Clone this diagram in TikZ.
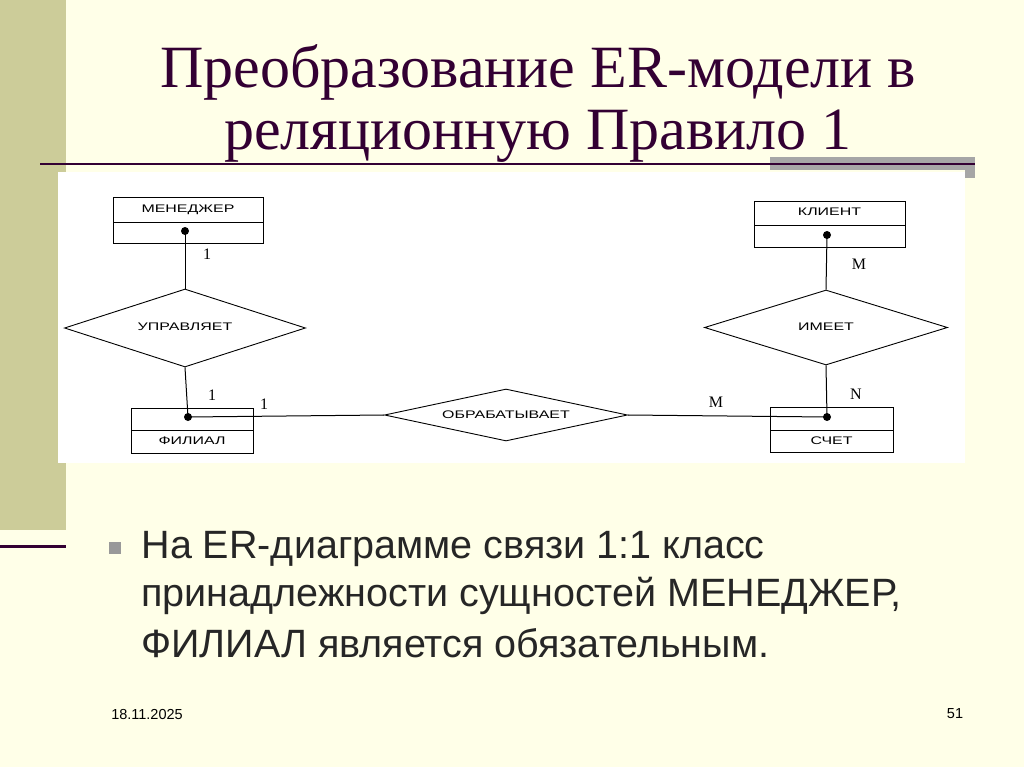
\documentclass[tikz,border=0pt]{standalone}
\usepackage{fontspec}
\setmainfont{Liberation Serif}
\newfontfamily\arial{Liberation Sans}
\usetikzlibrary{shapes.geometric}
\definecolor{bg}{HTML}{FFFFE8}
\definecolor{bar}{HTML}{CCCC99}
\definecolor{ttl}{HTML}{330033}
\tikzset{
 ent/.style={draw,line width=1pt},
 rel/.style={draw,line width=0.9pt},
 lbl/.style={font=\arial\fontsize{11}{12}\selectfont,xscale=1.45},
 card/.style={font=\fontsize{16}{16}\selectfont},
 conn/.style={line width=1pt},
 dotc/.style={circle,fill=black,inner sep=0pt,minimum size=8pt},
 bodytxt/.style={font=\arial\fontsize{39.5}{48}\selectfont,anchor=west,text=black!85}
}
\begin{document}
\begin{tikzpicture}[x=1pt,y=-1pt]
\fill[bg] (0,0) rectangle (1024,767);
\useasboundingbox (0,0) rectangle (1024,767);
\fill[bar] (0,0) rectangle (66,530);
\draw[ttl,line width=3pt] (0,546) -- (66,546);
% title
\node[text=ttl,font=\fontsize{60}{58}\selectfont,align=center] (title) at (538,104) {Преобразование ER-модели в\\[4pt]реляционную Правило 1};
\fill[black!35] (770,157) rectangle (975,170);
\fill[black!35] (965,165) rectangle (975,178);
\draw[ttl,line width=2pt] (40,164) -- (975,164);
% diagram image
\fill[white] (58,172) rectangle (965,463);
\node[ent,minimum width=150pt,minimum height=45pt] (men) at (188,220.5) {};
\draw[line width=0.8pt] (113,222) -- (263,222);
\node[lbl] (menl) at (188,210) {МЕНЕДЖЕР};
\node[ent,minimum width=122pt,minimum height=45pt] (fil) at (192,430.5) {};
\draw[line width=0.8pt] (131,430) -- (253,430);
\node[lbl] (fill) at (192,441) {ФИЛИАЛ};
\node[ent,minimum width=151pt,minimum height=45pt] (kli) at (829.5,224.5) {};
\draw[line width=0.8pt] (754,225) -- (905,225);
\node[lbl] (klil) at (829.5,212) {КЛИЕНТ};
\node[ent,minimum width=123pt,minimum height=45pt] (sch) at (831.5,429.5) {};
\draw[line width=0.8pt] (770,430) -- (893,430);
\node[lbl] (schl) at (831.5,441) {СЧЕТ};
\node[rel,diamond,minimum width=241pt,minimum height=78pt,inner sep=0pt] (upr) at (185,328) {};
\node[lbl] (uprl) at (185,327) {УПРАВЛЯЕТ};
\node[rel,diamond,minimum width=243pt,minimum height=75pt,inner sep=0pt] (ime) at (826,327.5) {};
\node[lbl] (imel) at (826,327) {ИМЕЕТ};
\node[rel,diamond,minimum width=243pt,minimum height=52pt,inner sep=0pt] (obr) at (506,415) {};
\node[lbl] (obrl) at (506,415) {ОБРАБАТЫВАЕТ};
\node[dotc] (d1) at (185,231) {};
\node[dotc] (d2) at (188,417) {};
\node[dotc] (d3) at (827,235) {};
\node[dotc] (d4) at (827,417) {};
\draw[conn] (d1.center) -- (upr.north);
\draw[conn] (upr.south) -- (d2.center);
\draw[conn] (d2.center) -- (obr.west);
\draw[conn] (obr.east) -- (d4.center);
\draw[conn] (d3.center) -- (ime.north);
\draw[conn] (ime.south) -- (d4.center);
\node[card] (c1) at (207,254) {1};
\node[card] (c2) at (212,395) {1};
\node[card] (c3) at (264,404) {1};
\node[card] (c4) at (716,402) {M};
\node[card] (c5) at (859,264) {M};
\node[card] (c6) at (856,394) {N};
% bullet text
\fill[black!40] (109,542) rectangle (121,554);
\node[bodytxt] (b1) at (138,549) {На ER-диаграмме связи 1:1 класс};
\node[bodytxt] (b2) at (138,596) {принадлежности сущностей МЕНЕДЖЕР,};
\node[bodytxt] (b3) at (138,643) {ФИЛИАЛ является обязательным.};
\node[font=\arial\fontsize{14.5}{16}\selectfont] (date) at (147,715) {18.11.2025};
\node[font=\arial\fontsize{14.5}{16}\selectfont] (pg) at (955,714) {51};
\end{tikzpicture}
\end{document}
